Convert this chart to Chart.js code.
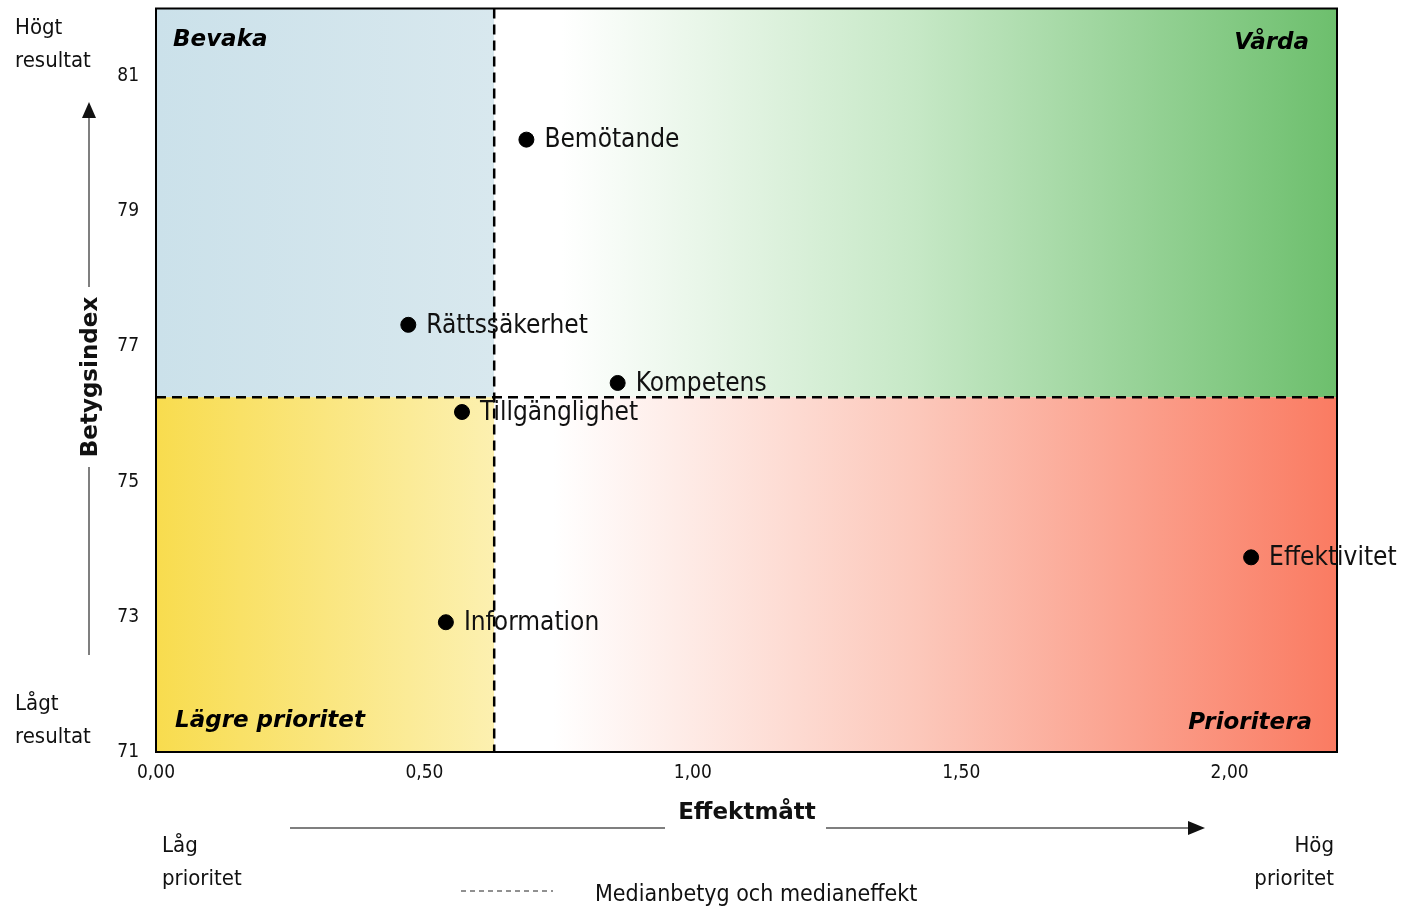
<!DOCTYPE html>
<html>
<head>
<meta charset="utf-8">
<script src="https://cdn.jsdelivr.net/npm/chart.js@4.4.1/dist/chart.umd.min.js"></script>
<style>
  html, body { margin: 0; padding: 0; background: #fff; }
  #wrap { width: 1401px; height: 908px; position: relative; }
</style>
</head>
<body>
<div id="wrap"><canvas id="chart"></canvas></div>
<script>
// Values
const categories = ['Bemötande', 'Rättssäkerhet', 'Kompetens', 'Tillgänglighet', 'Effektivitet', 'Information'];
const effekt = [0.69, 0.47, 0.86, 0.57, 2.04, 0.54];
const betyg = [80.06, 77.32, 76.46, 76.03, 73.88, 72.92];

const xTicks = [0, 0.5, 1, 1.5, 2];
const yTicks = [71, 73, 75, 77, 79, 81];

const medianEffekt = 0.63;
const medianBetyg = 76.25;

const FONT = "'DejaVu Sans', Verdana, sans-serif";
const NARROW = "'DejaVu Sans Condensed', 'DejaVu Sans', sans-serif";

// quadrant fills, median lines, labels and outside annotations
const quadrantPlugin = {
    id: 'quadrants',
    beforeDatasetsDraw(chart) {
        const { ctx, chartArea: a, scales: { x, y } } = chart;
        const mx = x.getPixelForValue(medianEffekt);
        const my = y.getPixelForValue(medianBetyg);
        ctx.save();

        // Bevaka (top left)
        let g = ctx.createLinearGradient(a.left, 0, mx, 0);
        g.addColorStop(0, '#cbe1ea');
        g.addColorStop(1, '#d8e8ee');
        ctx.fillStyle = g;
        ctx.fillRect(a.left, a.top, mx - a.left, my - a.top);

        // Vårda (top right)
        g = ctx.createLinearGradient(mx, 0, a.right, 0);
        g.addColorStop(0, '#ffffff');
        g.addColorStop(0.08, '#ffffff');
        g.addColorStop(0.5, '#c6e8c6');
        g.addColorStop(1, '#6dbf6d');
        ctx.fillStyle = g;
        ctx.fillRect(mx, a.top, a.right - mx, my - a.top);

        // Lägre prioritet (bottom left)
        g = ctx.createLinearGradient(a.left, 0, mx, 0);
        g.addColorStop(0, '#f8dc4e');
        g.addColorStop(1, '#fcf0b0');
        ctx.fillStyle = g;
        ctx.fillRect(a.left, my, mx - a.left, a.bottom - my);

        // Prioritera (bottom right)
        g = ctx.createLinearGradient(mx, 0, a.right, 0);
        g.addColorStop(0, '#ffffff');
        g.addColorStop(0.07, '#ffffff');
        g.addColorStop(0.5, '#fcc8bb');
        g.addColorStop(1, '#fa7b62');
        ctx.fillStyle = g;
        ctx.fillRect(mx, my, a.right - mx, a.bottom - my);

        // median lines
        ctx.strokeStyle = '#000';
        ctx.lineWidth = 2.5;
        ctx.setLineDash([10, 6]);
        ctx.beginPath();
        ctx.moveTo(mx, a.top);
        ctx.lineTo(mx, a.bottom);
        ctx.moveTo(a.left, my);
        ctx.lineTo(a.right, my);
        ctx.stroke();
        ctx.setLineDash([]);

        // frame
        ctx.lineWidth = 2;
        ctx.strokeRect(a.left, a.top, a.right - a.left, a.bottom - a.top);

        // quadrant names
        ctx.fillStyle = '#000';
        ctx.font = 'italic bold 23px ' + FONT;
        ctx.textBaseline = 'middle';
        ctx.textAlign = 'left';
        ctx.fillText('Bevaka', a.left + 17, a.top + 32);
        ctx.fillText('Lägre prioritet', a.left + 19, a.bottom - 31);
        ctx.textAlign = 'right';
        ctx.fillText('Vårda', a.right - 28, a.top + 35);
        ctx.fillText('Prioritera', a.right - 25, a.bottom - 29);
        ctx.restore();
    },
    afterDatasetsDraw(chart) {
        const { ctx } = chart;
        const meta = chart.getDatasetMeta(0);
        ctx.save();
        ctx.fillStyle = '#111';
        ctx.font = '26px ' + NARROW;
        ctx.textAlign = 'left';
        ctx.textBaseline = 'middle';
        meta.data.forEach((pt, i) => {
            ctx.fillText(categories[i], pt.x + 18, pt.y + 1);
        });
        ctx.restore();
    },
    afterDraw(chart) {
        const { ctx } = chart;
        ctx.save();
        ctx.fillStyle = '#111';
        ctx.strokeStyle = '#555';
        ctx.lineWidth = 1.5;

        // side notes
        ctx.font = '22px ' + NARROW;
        ctx.textBaseline = 'middle';
        ctx.textAlign = 'left';
        ctx.fillText('Högt', 15, 28);
        ctx.fillText('resultat', 15, 61);
        ctx.fillText('Lågt', 15, 704);
        ctx.fillText('resultat', 15, 737);
        ctx.fillText('Låg', 162, 846);
        ctx.fillText('prioritet', 162, 879);
        ctx.textAlign = 'right';
        ctx.fillText('Hög', 1334, 846);
        ctx.fillText('prioritet', 1334, 879);

        // y axis title with arrow
        ctx.save();
        ctx.translate(91, 377);
        ctx.rotate(-Math.PI / 2);
        ctx.textAlign = 'center';
        ctx.font = 'bold 23px ' + FONT;
        ctx.fillText('Betygsindex', 0, 0);
        ctx.restore();
        ctx.beginPath();
        ctx.moveTo(89, 655);
        ctx.lineTo(89, 467);
        ctx.moveTo(89, 287);
        ctx.lineTo(89, 115);
        ctx.stroke();
        ctx.beginPath();
        ctx.moveTo(89, 102);
        ctx.lineTo(82, 118);
        ctx.lineTo(96, 118);
        ctx.closePath();
        ctx.fill();

        // x axis title with arrow
        ctx.textAlign = 'center';
        ctx.font = 'bold 23px ' + FONT;
        ctx.fillText('Effektmått', 747, 813);
        ctx.beginPath();
        ctx.moveTo(290, 828);
        ctx.lineTo(665, 828);
        ctx.moveTo(826, 828);
        ctx.lineTo(1190, 828);
        ctx.stroke();
        ctx.beginPath();
        ctx.moveTo(1205, 828);
        ctx.lineTo(1188, 821);
        ctx.lineTo(1188, 835);
        ctx.closePath();
        ctx.fill();

        // legend for the median lines
        ctx.strokeStyle = '#222';
        ctx.lineWidth = 1;
        ctx.setLineDash([5, 4]);
        ctx.beginPath();
        ctx.moveTo(461, 891);
        ctx.lineTo(553, 891);
        ctx.stroke();
        ctx.setLineDash([]);
        ctx.textAlign = 'left';
        ctx.font = '23px ' + NARROW;
        ctx.fillText('Medianbetyg och medianeffekt', 595, 895);
        ctx.restore();
    }
};

new Chart(document.getElementById('chart'), {
    type: 'scatter',
    data: {
        datasets: [{
            data: effekt.map((v, i) => ({ x: v, y: betyg[i] })),
            backgroundColor: '#000',
            borderColor: '#000',
            pointRadius: 7.5,
            pointHoverRadius: 7.5
        }]
    },
    options: {
        responsive: true,
        maintainAspectRatio: false,
        animation: false,
        events: [],
        layout: { padding: { top: 8, right: 64, left: 0, bottom: 0 } },
        plugins: {
            legend: { display: false },
            tooltip: { enabled: false }
        },
        scales: {
            x: {
                type: 'linear',
                min: 0,
                max: 2.2,
                afterBuildTicks: s => { s.ticks = xTicks.map(v => ({ value: v })); },
                afterFit: s => {
                    s.height = 156;
                    s.paddingLeft = 0;
                    s.paddingRight = 0;
                },
                grid: { display: false, drawTicks: false },
                border: { display: false },
                ticks: {
                    padding: 10,
                    color: '#111',
                    font: { family: NARROW, size: 19 },
                    maxRotation: 0,
                    callback: v => v.toFixed(2).replace('.', ',')
                }
            },
            y: {
                type: 'linear',
                min: 71,
                max: 82,
                afterBuildTicks: s => { s.ticks = yTicks.map(v => ({ value: v })); },
                afterFit: s => {
                    s.width = 156;
                    s.paddingTop = 0;
                    s.paddingBottom = 0;
                },
                grid: { display: false, drawTicks: false },
                border: { display: false },
                ticks: {
                    padding: 17,
                    color: '#111',
                    font: { family: NARROW, size: 19 }
                }
            }
        }
    },
    plugins: [quadrantPlugin]
});
</script>
</body>
</html>
